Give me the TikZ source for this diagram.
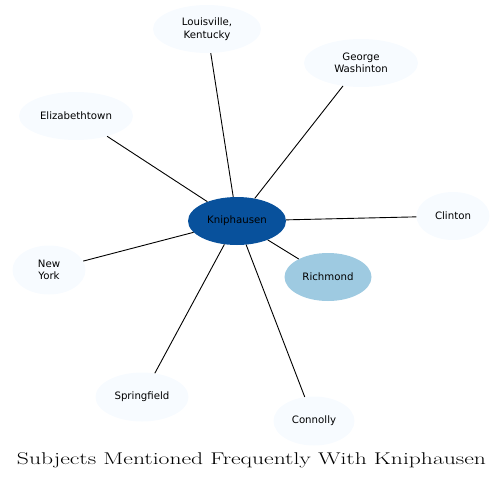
\documentclass[tikz,border=0pt]{standalone}
\usepackage{fontspec}
\usepackage{graphicx}
\newfontfamily\nodefont{DejaVu Sans}
\usetikzlibrary{shapes.geometric}
\definecolor{leafc}{HTML}{F7FBFF}
\definecolor{hubc}{HTML}{08519C}
\definecolor{richc}{HTML}{9ECAE1}
\tikzset{
  bub/.style={ellipse, draw=none, fill=leafc, inner sep=0pt, align=center,
    font=\nodefont\fontsize{10.2}{12.5}\selectfont, text=black},
  link/.style={draw=black, line width=0.9pt},
}
\begin{document}
\begin{tikzpicture}[x=1pt,y=-1pt]
\useasboundingbox (0,0) rectangle (503,482);
\node[bub, fill=hubc, minimum width=98pt, minimum height=48pt] (k) at (237,221) {Kniphausen};
\node[bub, minimum width=108pt, minimum height=48pt] (lou) at (207,29) {Louisville,\\Kentucky};
\node[bub, minimum width=114pt, minimum height=48pt] (geo) at (361,63) {George\\Washinton};
\node[bub, minimum width=114pt, minimum height=48pt] (eli) at (76,116) {Elizabethtown};
\node[bub, minimum width=73pt, minimum height=48pt] (cli) at (453,216) {Clinton};
\node[bub, minimum width=73pt, minimum height=49pt] (ny) at (49,270) {New\\York};
\node[bub, fill=richc, minimum width=87pt, minimum height=48pt] (ric) at (328,277) {Richmond};
\node[bub, minimum width=93pt, minimum height=49pt] (spr) at (142,397) {Springfield};
\node[bub, minimum width=81pt, minimum height=49pt] (con) at (314,421) {Connolly};
\foreach \t in {lou,geo,eli,cli,ny,ric,spr,con} { \draw[link] (k) -- (\t); }
\node[inner sep=0pt, anchor=base] (title) at (251.5,464.5) {\resizebox{469pt}{\height}{\fontsize{17}{20}\selectfont Subjects Mentioned Frequently With Kniphausen}};
\end{tikzpicture}
\end{document}
